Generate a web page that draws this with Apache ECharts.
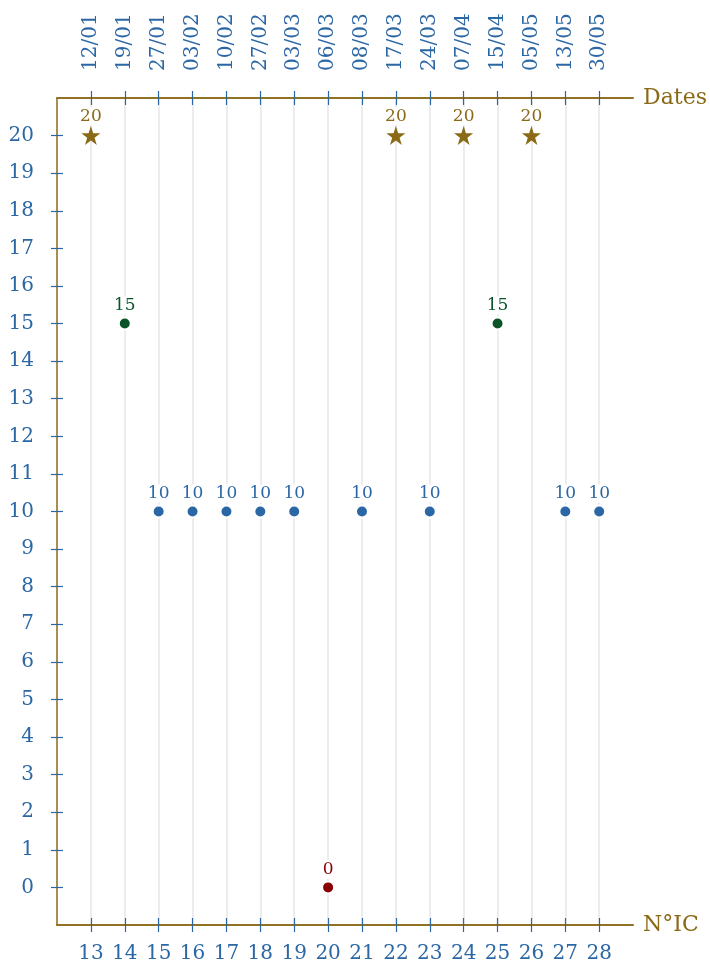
<!DOCTYPE html>
<html>
<head>
<meta charset="utf-8">
<script src="https://cdn.jsdelivr.net/npm/echarts@6/dist/echarts.min.js"></script>
<style>
  html, body { margin: 0; padding: 0; background: #fff; }
  #chart { width: 710px; height: 964px; }
</style>
</head>
<body>
<div id="chart"></div>
<script>
// Interrogation numbers, their dates and the mark obtained for each
const nicLabels = ['13','14','15','16','17','18','19','20','21','22','23','24','25','26','27','28'];
const dateLabels = ['12/01','19/01','27/01','03/02','10/02','27/02','03/03','06/03','08/03','17/03','24/03','07/04','15/04','05/05','13/05','30/05'];
const scores = [20, 15, 10, 10, 10, 10, 10, 0, 10, 20, 10, 20, 15, 20, 10, 10];
const yTicks = [0,1,2,3,4,5,6,7,8,9,10,11,12,13,14,15,16,17,18,19,20];

const FONT = 'DejaVu Serif';
const BLUE = '#2c67a5';
const GOLD = '#8b6a17';
const GREEN = '#0b5428';
const RED = '#8b0000';
const GRID = '#e6e6e6';

// padded categories so the plot has one step of margin at each end
const bottomCats = [''].concat(nicLabels, ['']);
const topCats = [''].concat(dateLabels, ['']);
const realTick = (i, v) => v !== '';

const STAR = 'path://M50,0 L61.8,35.5 L99,35.5 L69,57.4 L80.4,92.7 L50,70.8 L19.6,92.7 L31,57.4 L1,35.5 L38.2,35.5 Z';

function styleFor(v) {
  if (v === 20) return { color: GOLD, symbol: STAR, size: 19, dist: 1 };
  if (v === 15) return { color: GREEN, symbol: 'circle', size: 12, dist: 2 };
  if (v === 0) return { color: RED, symbol: 'circle', size: 12, dist: 2 };
  return { color: BLUE, symbol: 'circle', size: 12, dist: 2 };
}

const points = scores.map((v, i) => {
  const s = styleFor(v);
  return {
    value: [i + 1, v],
    symbol: s.symbol,
    symbolSize: s.size,
    itemStyle: { color: s.color, opacity: 1, borderColor: '#fff', borderWidth: s.symbol === 'circle' ? 2 : 0 },
    label: {
      show: true, position: 'top', distance: s.dist,
      color: s.color, fontFamily: FONT, fontSize: 17,
      backgroundColor: '#fff', padding: [1, 1, 0, 1]
    }
  };
});

const tickStyle = { color: BLUE, width: 1.2 };

function xAxisDef(pos, cats, extra) {
  return Object.assign({
    type: 'category',
    position: pos,
    data: cats,
    boundaryGap: false,
    axisLine: { show: true, onZero: false, lineStyle: { color: GOLD, width: 1.5 } },
    axisTick: { show: true, interval: realTick, length: 7, lineStyle: tickStyle },
    splitLine: { show: false }
  }, extra);
}

const option = {
  backgroundColor: '#fff',
  animation: false,
  grid: { left: 57, right: 75, top: 98, bottom: 35, containLabel: false },
  xAxis: [
    xAxisDef('bottom', bottomCats, {
      name: 'N°IC', nameLocation: 'end', nameGap: 10,
      nameTextStyle: { color: GOLD, fontFamily: FONT, fontSize: 22 },
      axisLabel: { interval: realTick, color: BLUE, fontFamily: FONT, fontSize: 20, margin: 19 },
      splitLine: { show: true, interval: realTick, lineStyle: { color: GRID, width: 1.5 } }
    }),
    xAxisDef('top', topCats, {
      name: 'Dates', nameLocation: 'end', nameGap: 10,
      nameTextStyle: { color: GOLD, fontFamily: FONT, fontSize: 22 },
      axisLabel: { interval: realTick, rotate: -90, color: BLUE, fontFamily: FONT, fontSize: 20, margin: 27 }
    }),
    xAxisDef('bottom', bottomCats, {
      axisLabel: { show: false },
      axisTick: { show: true, inside: true, interval: realTick, length: 7, lineStyle: tickStyle }
    }),
    xAxisDef('top', topCats, {
      axisLabel: { show: false },
      axisTick: { show: true, inside: true, interval: realTick, length: 7, lineStyle: tickStyle }
    })
  ],
  yAxis: [
    {
      type: 'value', min: -1, max: 21, interval: 1, position: 'left',
      axisLine: { show: true, onZero: false, lineStyle: { color: GOLD, width: 1.5 } },
      axisTick: { show: true, length: 6, customValues: yTicks, lineStyle: tickStyle },
      axisLabel: { customValues: yTicks, color: BLUE, fontFamily: FONT, fontSize: 20, margin: 23 },
      splitLine: { show: false }
    },
    {
      type: 'value', min: -1, max: 21, interval: 1, position: 'left', offset: 0,
      axisLine: { show: false, onZero: false },
      axisTick: { show: true, inside: true, length: 6, customValues: yTicks, lineStyle: tickStyle },
      axisLabel: { show: false },
      splitLine: { show: false }
    }
  ],
  series: [{
    type: 'scatter',
    xAxisIndex: 0,
    yAxisIndex: 0,
    data: points,
    z: 5
  }]
};

const chart = echarts.init(document.getElementById('chart'), null, { renderer: 'canvas' });
chart.setOption(option);
</script>
</body>
</html>
